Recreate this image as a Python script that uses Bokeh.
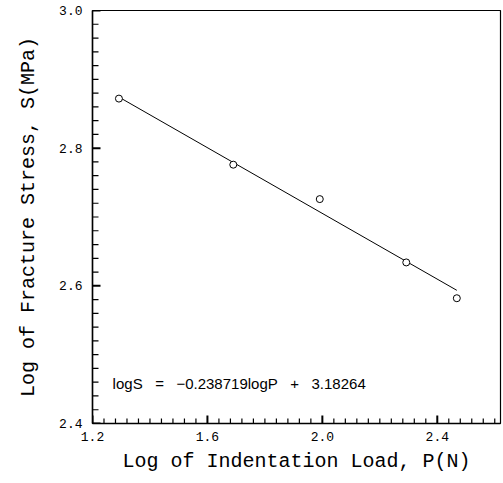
import numpy as np
from bokeh.plotting import figure
from bokeh.models import FixedTicker, Range1d, Label, ColumnDataSource
from bokeh.embed import file_html
from bokeh.resources import INLINE

# data (log10 of indentation load in N, log10 of fracture stress in MPa)
log_load = [1.292, 1.690, 1.991, 2.292, 2.468]
log_stress = [2.872, 2.776, 2.726, 2.634, 2.582]
slope = -0.238719
intercept = 3.18264
x_major = [1.2, 1.6, 2.0, 2.4]
y_major = [2.4, 2.6, 2.8, 3.0]
x_labels = {1.2: "1.2", 1.6: "1.6", 2.0: "2.0", 2.4: "2.4"}
y_labels = {2.4: "2.4", 2.6: "2.6", 2.8: "2.8", 3.0: "3.0"}
NB = "\u00a0"
eq_text = "logS" + NB * 3 + "=" + NB * 3 + "\u22120.238719logP" + NB * 3 + "+" + NB * 3 + "3.18264"

X0, X1 = 1.2, 2.62
Y0, Y1 = 2.4, 3.0
W, H = 502, 481
BL, BR, BT, BB = 92, 2, 10, 58

p = figure(width=W, height=H, output_backend="svg", toolbar_location=None,
           x_range=Range1d(X0, X1), y_range=Range1d(Y0, Y1),
           min_border_left=BL, min_border_right=BR, min_border_top=BT, min_border_bottom=BB)
p.grid.visible = False
p.outline_line_color = "black"
p.outline_line_width = 1.2
p.background_fill_color = "white"
p.border_fill_color = "white"

p.xaxis.ticker = FixedTicker(ticks=x_major)
p.yaxis.ticker = FixedTicker(ticks=y_major)
p.xaxis.major_label_overrides = x_labels
p.yaxis.major_label_overrides = y_labels

for ax in (p.xaxis, p.yaxis):
    ax.axis_line_color = "black"
    ax.axis_line_width = 1.5
    ax.major_tick_in = 0
    ax.major_tick_out = 0
    ax.minor_tick_in = 0
    ax.minor_tick_out = 0
    ax.major_label_text_font = "Liberation Mono"
    ax.major_label_text_font_size = "13px"
    ax.major_label_text_color = "black"
    ax.axis_label_text_font = "Liberation Mono"
    ax.axis_label_text_font_size = "20px"
    ax.axis_label_text_font_style = "normal"
    ax.axis_label_text_color = "black"

p.xaxis.axis_label = "Log of Indentation Load, P(N)"
p.yaxis.axis_label = "Log of Fracture Stress, S(MPa)"
p.xaxis.major_label_standoff = 8
p.yaxis.major_label_standoff = 10
p.xaxis.axis_label_standoff = 6
p.yaxis.axis_label_standoff = 16

# inward ticks drawn as dash markers (offsets in px converted to data units)
fw = W - BL - BR
fh = H - BT - BB
px_x = (X1 - X0) / fw
px_y = (Y1 - Y0) / fh
xminor = [float(round(v, 3)) for v in np.arange(X0, X1, 0.04)]
yminor = [float(round(v, 3)) for v in np.arange(Y0, Y1, 0.02)]
xminor = [v for v in xminor if v not in x_major]
yminor = [v for v in yminor if v not in y_major]

tx = x_major + xminor
ty = [Y0 + 4 * px_y] * len(x_major) + [Y0 + 2.5 * px_y] * len(xminor)
ts = [8] * len(x_major) + [5] * len(xminor)
tw = [2] * len(x_major) + [1.2] * len(xminor)
src_x = ColumnDataSource(dict(x=tx, y=ty, s=ts, w=tw))
p.scatter(x="x", y="y", size="s", line_width="w", marker="dash", angle=np.pi / 2,
          line_color="black", source=src_x)

sy = y_major + yminor
sx = [X0 + 4 * px_x] * len(y_major) + [X0 + 3 * px_x] * len(yminor)
ss = [8] * len(y_major) + [6] * len(yminor)
sw = [2] * len(y_major) + [1.2] * len(yminor)
src_y = ColumnDataSource(dict(x=sx, y=sy, s=ss, w=sw))
p.scatter(x="x", y="y", size="s", line_width="w", marker="dash",
          line_color="black", source=src_y)

xs = [log_load[0], log_load[-1]]
ys = [slope * v + intercept for v in xs]
p.line(xs, ys, line_color="black", line_width=1)
p.scatter(log_load, log_stress, marker="circle", size=7, fill_color="white",
          line_color="black", line_width=1)

p.add_layout(Label(x=1.27, y=2.458, text=eq_text, text_font="Liberation Sans",
                   text_font_size="15px", text_baseline="middle", text_color="black"))

open("out.html", "w").write(file_html(p, INLINE))
